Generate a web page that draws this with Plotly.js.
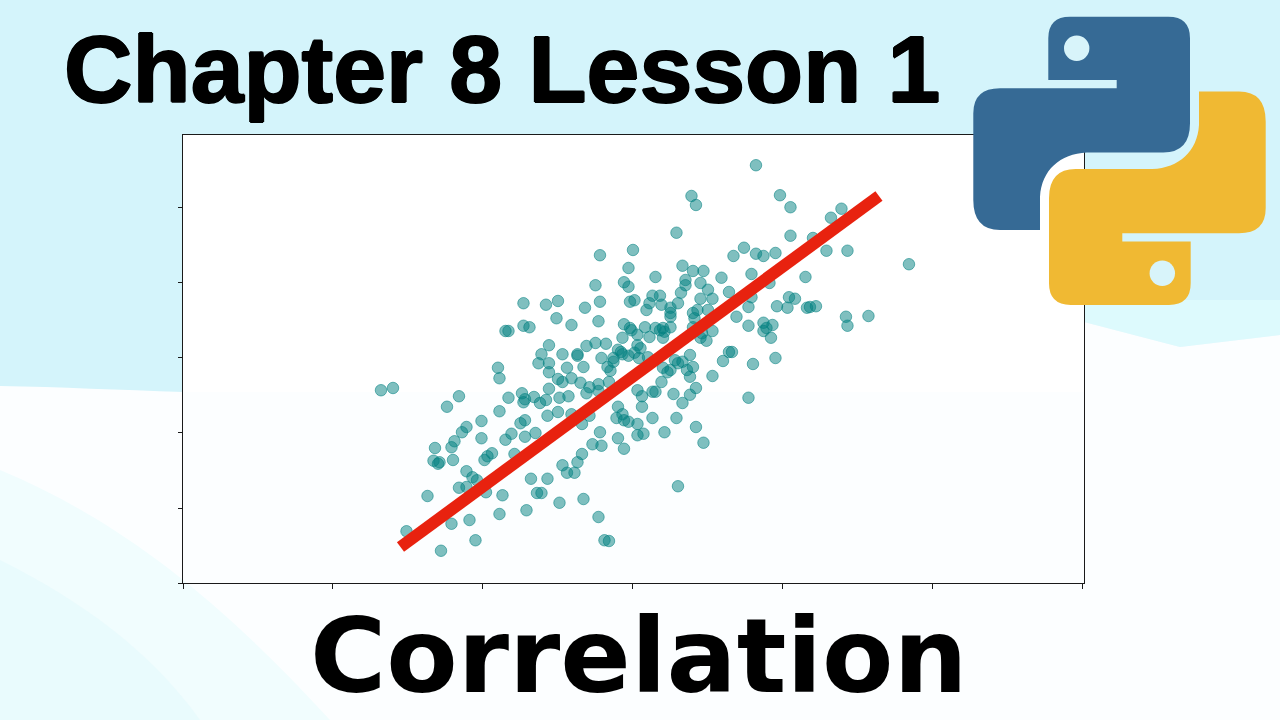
<!DOCTYPE html>
<html>
<head>
<meta charset="utf-8">
<script src="https://cdn.plot.ly/plotly-3.0.1.min.js"></script>
<style>html,body{margin:0;padding:0;background:#d4f4fb;}#chart{width:1280px;height:720px;}</style>
</head>
<body>
<div id="chart"></div>
<script>
// ---- data (axes have no labels, units 0..6) ----
const xVals = [2.27,2.42,2.15,2.17,2.27,2.31,2.44,2.39,2.37,2.10,
2.11,2.44,1.32,1.40,1.84,2.17,2.26,2.28,2.34,2.44,
1.76,2.11,2.27,2.38,2.42,1.99,1.89,1.86,1.81,1.79,
1.68,1.99,2.15,2.19,2.25,2.28,2.28,2.35,2.43,1.67,
1.70,1.71,1.80,2.01,2.03,2.06,2.21,1.89,1.93,1.96,
1.84,1.89,2.02,2.32,2.43,2.36,2.39,1.63,2.13,2.29,
2.11,1.91,1.79,1.49,1.95,1.72,3.29,3.00,2.78,2.97,
3.33,3.40,3.47,3.59,3.15,2.94,2.97,2.75,3.35,3.35,
3.45,3.50,3.32,3.18,3.13,3.01,2.98,2.78,2.50,3.45,
3.53,3.11,3.09,2.68,2.49,2.77,2.59,3.08,2.94,2.98,
2.99,3.03,2.93,3.03,3.11,2.69,2.75,2.82,2.90,2.92,
3.05,3.01,2.63,2.63,2.53,2.79,2.87,2.93,2.97,3.04,
3.10,2.44,2.83,2.85,2.87,2.56,2.67,2.50,2.53,2.59,
2.65,2.71,2.77,2.84,2.51,2.57,2.69,2.77,3.03,3.06,
3.25,3.25,3.25,3.41,3.21,3.19,3.30,3.40,3.43,3.50,
3.69,3.77,3.96,4.03,4.16,4.18,4.22,4.42,4.43,3.77,
3.87,3.87,3.89,3.93,3.92,3.15,3.18,3.20,3.25,3.20,
3.40,3.46,3.53,3.49,3.45,3.38,3.64,3.66,3.60,3.80,
3.95,3.28,3.30,3.33,3.20,3.23,3.25,3.36,3.40,3.38,
3.53,3.19,3.13,3.15,3.27,3.42,3.38,3.33,3.77,3.13,
3.29,3.42,3.21,3.47,2.50,2.59,2.66,2.71,2.90,2.89,
2.93,2.94,2.97,3.06,3.03,3.03,3.07,2.78,2.73,2.79,
2.90,2.94,2.66,2.63,2.53,2.56,2.61,3.30,2.51,2.67,
2.77,2.81,2.84,3.82,3.98,4.05,4.39,4.32,4.05,4.20,
3.74,3.67,3.82,3.87,3.95,4.29,4.43,4.84,3.79,4.15,
3.91,3.64,3.79,4.04,4.08,3.39,3.42,4.57];

const yVals = [3.73,3.71,3.36,3.36,3.43,3.41,3.17,3.05,2.93,2.87,
2.73,2.81,2.57,2.60,2.49,2.47,2.53,2.45,2.48,2.59,
2.35,2.29,2.41,2.40,2.44,2.16,2.08,2.01,1.89,1.81,
1.80,1.93,1.91,1.99,2.13,2.17,1.95,2.00,2.23,1.63,
1.59,1.61,1.64,1.64,1.69,1.73,1.72,1.49,1.41,1.37,
1.27,1.28,1.21,1.39,1.39,1.20,1.20,1.16,1.17,0.97,
0.92,0.84,0.79,0.69,0.57,0.43,4.67,4.44,4.37,4.20,
4.23,4.16,4.16,4.07,4.08,4.01,3.95,3.97,4.04,3.97,
4.00,3.91,3.87,3.83,3.83,3.77,3.75,3.75,3.76,3.79,
3.79,3.73,3.64,3.67,3.53,3.49,3.44,3.41,3.45,3.40,
3.37,3.17,3.27,3.31,3.28,3.16,3.20,3.19,3.11,3.08,
3.13,3.07,3.05,3.03,3.05,3.00,3.00,3.05,3.03,3.00,
3.01,2.93,2.88,2.83,2.95,2.87,2.88,2.72,2.68,2.73,
2.67,2.61,2.65,2.68,2.47,2.49,2.53,2.56,2.57,2.49,
3.67,3.60,3.55,3.53,3.35,3.71,3.73,3.60,3.64,3.64,
3.55,3.68,3.69,3.67,3.67,3.68,3.69,3.55,3.43,3.43,
3.47,3.36,3.40,3.44,3.27,3.40,3.37,3.40,3.41,3.27,
3.41,3.33,3.36,3.23,3.27,3.04,3.08,3.08,2.96,2.92,
3.00,2.97,2.93,2.95,2.87,2.81,2.84,2.84,2.88,2.75,
2.76,2.68,2.55,2.55,2.52,2.60,2.51,2.40,2.47,2.20,
2.20,2.08,2.01,1.87,2.28,2.25,2.12,2.23,2.35,2.20,
2.25,2.17,2.15,2.35,2.12,1.97,1.99,2.01,1.85,1.83,
1.93,1.79,1.72,1.61,1.57,1.47,1.47,1.29,1.07,1.12,
0.88,0.57,0.56,5.57,5.17,5.01,4.99,4.87,4.63,4.60,
4.47,4.36,4.39,4.36,4.40,4.43,4.43,4.25,4.12,4.08,
4.00,3.88,3.81,3.81,3.79,5.16,5.04,3.56];

// fitted line end points
const fitX = [1.45, 4.64];
const fitY = [0.48, 5.16];

const titleText = "Chapter 8 Lesson 1";
const subtitleText = "Correlation";

// ---- decoration helpers (pixel -> paper) ----
const W = 1280, H = 720;
function px(x){ return (x / W).toFixed(5); }
function py(y){ return (1 - y / H).toFixed(5); }
function toPath(segs){
  return segs.map(s => {
    const v = s.slice(1);
    let out = s[0];
    for (let i = 0; i < v.length; i += 2) {
      out += (i ? ' ' : '') + px(v[i]) + ',' + py(v[i+1]);
    }
    return out;
  }).join(' ');
}
function rot(segs, cx, cy){
  return segs.map(s => [s[0]].concat(s.slice(1).map((v,i)=> i%2===0 ? 2*cx - v : 2*cy - v)));
}
function circ(cx, cy, r, color){
  return {type:'circle', xref:'paper', yref:'paper', layer:'above',
    x0:px(cx-r), x1:px(cx+r), y0:py(cy+r), y1:py(cy-r),
    fillcolor:color, line:{width:0}};
}

const snake = [
  ['M',1048.3,80], ['L',1048.3,38.3], ['Q',1048.3,16.7,1070,16.7],
  ['L',1168.3,16.7], ['Q',1190,16.7,1190,38.3],
  ['L',1190,123.3], ['Q',1190,152.5,1163.3,152.5],
  ['L',1086.7,152.5], ['C',1060,154,1041.7,170,1040,196.7],
  ['L',1040,230], ['L',1000,230], ['Q',973.3,230,973.3,200],
  ['L',973.3,113.3], ['Q',973.3,88.3,1000,88.3],
  ['L',1116.7,88.3], ['L',1116.7,80], ['Z']
];
const CX = 1119.5, CY = 160.8;

const shapes = [
  // light band on the right
  {type:'path', xref:'paper', yref:'paper', layer:'below',
   path: toPath([['M',1084,300],['L',1280,300],['L',1280,335],['L',1180,347],['L',1084,322],['Z']]),
   fillcolor:'#ddfafd', line:{width:0}},
  // white ground
  {type:'path', xref:'paper', yref:'paper', layer:'below',
   path: toPath([['M',0,386],['C',60,387,120,390,183,392],['L',1084,392],['L',1084,322],['L',1180,347],['L',1280,335],['L',1280,720],['L',0,720],['Z']]),
   fillcolor:'#fcfeff', line:{width:0}},
  // faint cyan bottom-left
  {type:'path', xref:'paper', yref:'paper', layer:'below',
   path: toPath([['M',0,470],['C',120,520,220,600,330,720],['L',0,720],['Z']]),
   fillcolor:'#f1fdfe', line:{width:0}},
  {type:'path', xref:'paper', yref:'paper', layer:'below',
   path: toPath([['M',0,560],['C',80,600,150,650,200,720],['L',0,720],['Z']]),
   fillcolor:'#e9fbfd', line:{width:0}},
  // python logo
  {type:'path', xref:'paper', yref:'paper', layer:'above', path: toPath(snake),
   fillcolor:'#366a95', line:{width:0}},
  {type:'path', xref:'paper', yref:'paper', layer:'above', path: toPath(rot(snake, CX, CY)),
   fillcolor:'#f0b933', line:{width:0}},
  circ(1076.7, 48.3, 12.7, '#d8f4fa'),
  circ(2*CX-1076.7, 2*CY-48.3, 12.7, '#d8f4fa')
];

const traces = [
  {type:'scatter', mode:'markers', x:xVals, y:yVals, hoverinfo:'skip',
   marker:{size:11.5, color:'rgba(0,128,128,0.5)', line:{color:'rgba(0,128,128,0.55)', width:1}}},
  {type:'scatter', mode:'lines', x:fitX, y:fitY, hoverinfo:'skip',
   line:{color:'#e8220f', width:12}}
];

const axisCommon = {showgrid:false, zeroline:false, showline:true, mirror:true,
  linecolor:'#1a1a1a', linewidth:1, ticks:'outside', tickcolor:'#1a1a1a', tickwidth:1,
  showticklabels:false, tick0:0, dtick:1, fixedrange:true};

const layout = {
  width:W, height:H, margin:{l:0,r:0,t:0,b:0,pad:0},
  paper_bgcolor:'#d4f4fb', plot_bgcolor:'#ffffff', showlegend:false,
  xaxis: Object.assign({}, axisCommon, {domain:[183/W, 1084/W], range:[0, 6.007], ticklen:5}),
  yaxis: Object.assign({}, axisCommon, {domain:[(H-583)/H, (H-135)/H], range:[0, 5.973], ticklen:4}),
  shapes: shapes,
  annotations: [
    {text:titleText, xref:'paper', yref:'paper', x:62/W, y:1-69/H, xanchor:'left', yanchor:'middle',
     showarrow:false, font:{family:'Liberation Sans, Arial, sans-serif', size:95, weight:700, color:'#000',
     shadow:'1px 0 0 #000, -1px 0 0 #000, 0 1px 0 #000, 0 -1px 0 #000'}},
    {text:subtitleText, xref:'paper', yref:'paper', x:639/W, y:1/H, xanchor:'center', yanchor:'bottom',
     showarrow:false, font:{family:'DejaVu Sans, sans-serif', size:104, weight:700, color:'#000'}}
  ]
};

Plotly.newPlot('chart', traces, layout, {staticPlot:true, displayModeBar:false});
</script>
</body>
</html>
